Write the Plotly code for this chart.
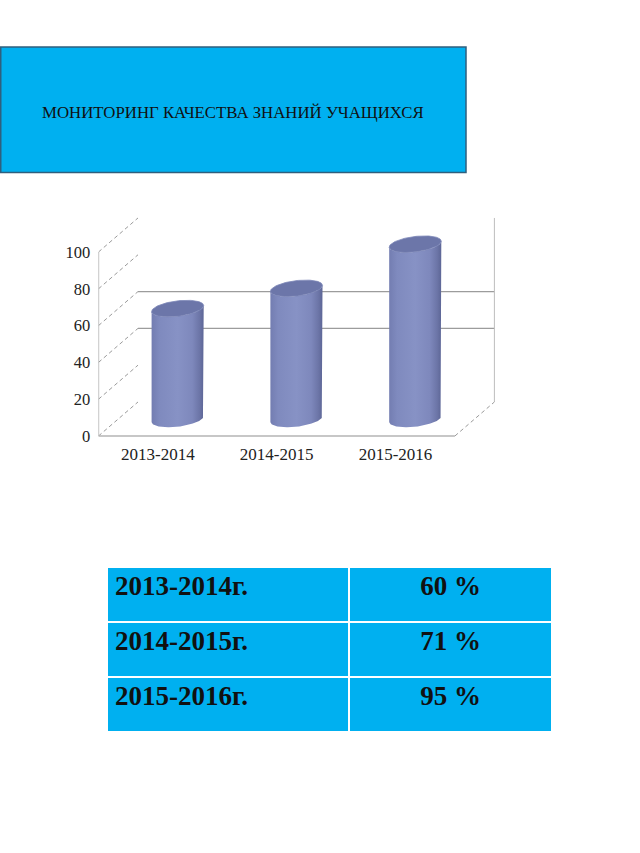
import numpy as np
import plotly.graph_objects as go

# ---------------- data ----------------
seasons = ["2013-2014", "2014-2015", "2015-2016"]
quality = [60, 71, 95]
y_ticks = [0, 20, 40, 60, 80, 100]
back_grid = [40, 60]
table_years = [f"{s}г." for s in seasons]
table_pct = [f"{v} %" for v in quality]
title_text = "МОНИТОРИНГ КАЧЕСТВА ЗНАНИЙ УЧАЩИХСЯ"

# ---------------- geometry / style ----------------
W, H = 640, 853
DX, DY = 0.3325, 18.5          # oblique depth offset (data units)
R, KX, KY = 0.205, 0.078, 4.5  # cylinder ellipse parameters
X0, X1 = -0.5, 2.5
GRID = "#A6A6A6"
SERIF = "Liberation Serif"

fig = go.Figure()

def line(xs, ys, color=GRID, width=1.2, dash=None):
    fig.add_trace(go.Scatter(x=xs, y=ys, mode="lines", hoverinfo="skip",
                             line=dict(color=color, width=width, dash=dash),
                             showlegend=False))

# left wall dashed lines
lx, ly = [], []
for v in y_ticks:
    lx += [X0, X0 + DX, None]
    ly += [v, v + DY, None]
line(lx, ly, color="#9A9A9A", width=1, dash="4px,3px")

# back wall gridlines
gx, gy = [], []
for v in back_grid:
    gx += [X0 + DX, X1 + DX, None]
    gy += [v + DY, v + DY, None]
line(gx, gy, color="#9C9C9C", width=1.3)

# back right vertical edge
line([X1 + DX, X1 + DX], [DY, y_ticks[-1] + DY], color="#BDBDBD", width=1)
# floor right dashed edge
line([X1, X1 + DX], [0, DY], color="#9A9A9A", width=1, dash="4px,3px")
# front left axis line
line([X0, X0], [0, y_ticks[-1]], color="#A6A6A6", width=1.3)
# floor front line
line([X0, X1], [0, 0], color="#B4B4B4", width=1.6)

# cylinders
t0 = np.arctan2(KX, R)
tf = np.linspace(t0 + np.pi, t0 + 2 * np.pi, 80)
tt = np.linspace(0, 2 * np.pi, 120)
body_scale = [[0.0, "#737DB1"], [0.15, "#7F8ABE"], [0.5, "#8792C5"],
              [0.78, "#7E88BC"], [0.92, "#6C75A7"], [1.0, "#5D6696"]]
for i, v in enumerate(quality):
    cx = i + DX / 2
    yb = DY / 2
    yt = v + DY / 2
    topx = cx + R * np.cos(tf) + KX * np.sin(tf)
    topy = yt + KY * np.sin(tf)
    botx = (cx + R * np.cos(tf) + KX * np.sin(tf))[::-1]
    boty = (yb + KY * np.sin(tf))[::-1]
    bx = np.concatenate([topx, botx, topx[:1]])
    by = np.concatenate([topy, boty, topy[:1]])
    fig.add_trace(go.Scatter(x=bx, y=by, mode="lines", fill="toself",
                             line=dict(width=0, color="#7F8ABE"),
                             fillgradient=dict(type="horizontal", colorscale=body_scale),
                             hoverinfo="skip", showlegend=False))
    ex = cx + R * np.cos(tt) + KX * np.sin(tt)
    ey = yt + KY * np.sin(tt)
    fig.add_trace(go.Scatter(x=ex, y=ey, mode="lines", fill="toself",
                             fillcolor="#6C76A9",
                             line=dict(width=0.8, color="#7C86B8"),
                             hoverinfo="skip", showlegend=False))

# table
cell_font = dict(family=SERIF, size=27, color="#111111", weight="bold")
fig.add_trace(go.Table(
    domain=dict(x=[107 / W, 553 / W], y=[1 - 732 / H, 1 - 567 / H]),
    columnwidth=[243, 203],
    header=dict(values=[table_years[0], table_pct[0]],
                fill_color="#00B0F0", line=dict(color="white", width=2),
                align=["left", "center"], height=55, font=cell_font),
    cells=dict(values=[table_years[1:], table_pct[1:]],
               fill_color="#00B0F0", line=dict(color="white", width=2),
               align=["left", "center"], height=55, font=cell_font),
))

# title box
fig.add_shape(type="rect", xref="paper", yref="paper",
              x0=0.75 / W, x1=466 / W, y0=1 - 172.5 / H, y1=1 - 47 / H,
              fillcolor="#00B0F0", line=dict(color="#2F5F7E", width=1.5), layer="below")
fig.add_annotation(xref="paper", yref="paper", x=233 / W, y=1 - 112 / H,
                   xanchor="center", yanchor="middle",
                   text=title_text, showarrow=False,
                   font=dict(family=SERIF, size=16.8, color="#111111"))

# axes: front x from 98.5px (x=-0.5) with 118.8 px per category
xpx0, xunit = 98.5, 118.8
xr = [-0.5, 3.0]
ypx0, yunit = 436.0, 1.84
yr = [-1, 125]
fig.update_layout(
    width=W, height=H,
    margin=dict(l=0, r=0, t=0, b=0),
    paper_bgcolor="white", plot_bgcolor="white",
    xaxis=dict(domain=[xpx0 / W, (xpx0 + (xr[1] - xr[0]) * xunit) / W],
               range=xr, tickvals=[0, 1, 2], ticktext=seasons,
               showgrid=False, zeroline=False, showline=False,
               ticks="outside", ticklen=1, tickcolor="rgba(0,0,0,0)",
               tickfont=dict(family=SERIF, size=17, color="#222222"),
               automargin=False, fixedrange=True),
    yaxis=dict(domain=[1 - (ypx0 - yr[0] * yunit) / H, 1 - (ypx0 - yr[1] * yunit) / H],
               range=yr, tickvals=y_ticks,
               showgrid=False, zeroline=False, showline=False,
               ticks="outside", ticklen=4, tickcolor="rgba(0,0,0,0)",
               tickfont=dict(family=SERIF, size=16.5, color="#222222"),
               automargin=False, fixedrange=True),
    showlegend=False,
)

fig.write_html("out.html", config={"displayModeBar": False},
               post_script="document.body.style.margin='0px';")
